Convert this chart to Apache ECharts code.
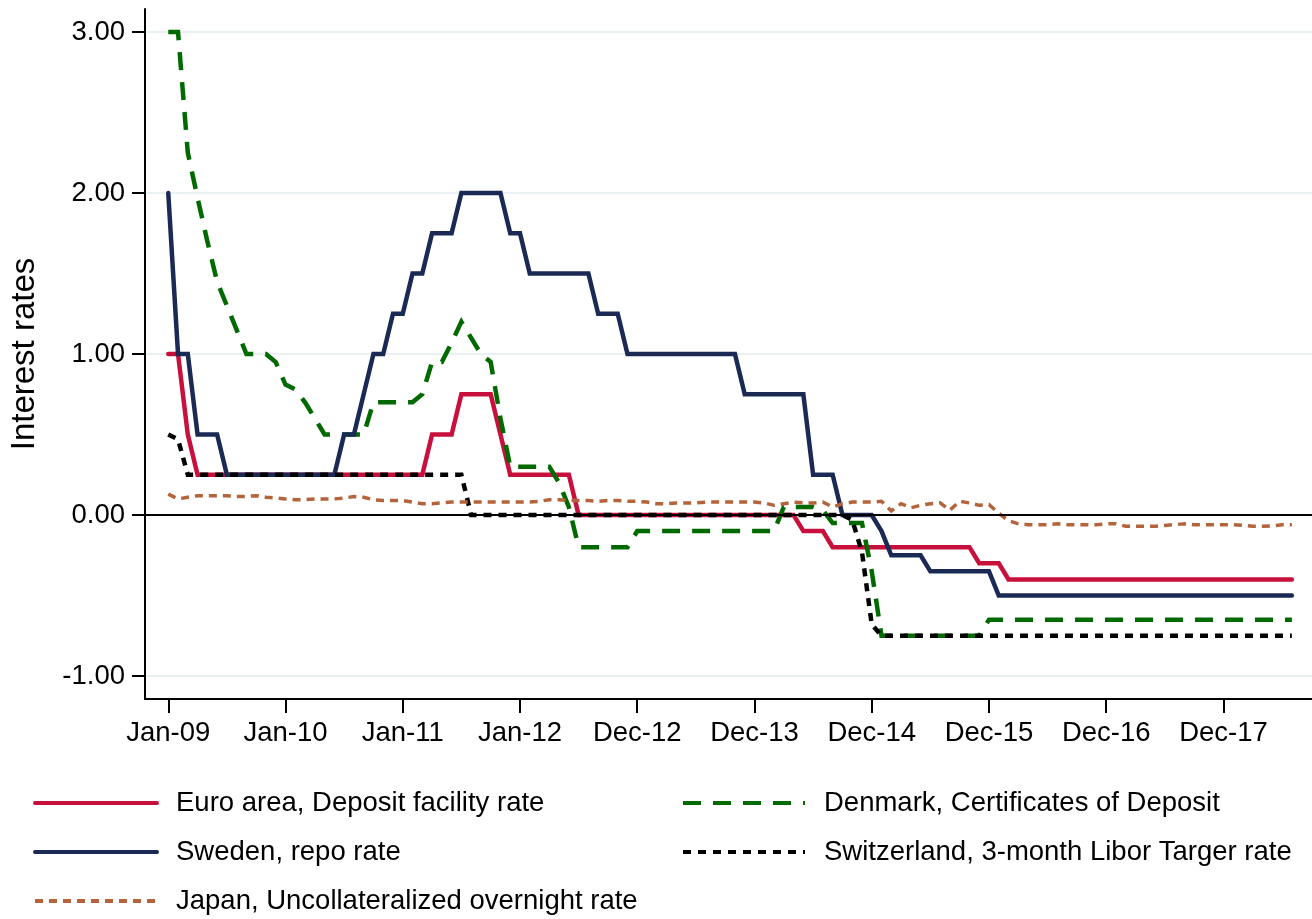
<!DOCTYPE html>
<html>
<head>
<meta charset="utf-8">
<script src="https://cdn.jsdelivr.net/npm/echarts@6/dist/echarts.min.js"></script>
<style>
html,body{margin:0;padding:0;background:#ffffff;}
#chart{width:1312px;height:919px;}
</style>
</head>
<body>
<div id="chart"></div>
<script>
// Month index 0 = Jan 2009 ... 115 = Aug 2018
const tickPositions = [0, 12, 24, 36, 48, 60, 72, 84, 96, 108];
const tickLabels = ['Jan-09', 'Jan-10', 'Jan-11', 'Jan-12', 'Dec-12', 'Dec-13', 'Dec-14', 'Dec-15', 'Dec-16', 'Dec-17'];
const yTicks = [-1, 0, 1, 2, 3];

const euroArea = [
  1, 1, 0.5, 0.25, 0.25, 0.25, 0.25, 0.25, 0.25, 0.25, 0.25, 0.25,
  0.25, 0.25, 0.25, 0.25, 0.25, 0.25, 0.25, 0.25, 0.25, 0.25, 0.25, 0.25,
  0.25, 0.25, 0.25, 0.5, 0.5, 0.5, 0.75, 0.75, 0.75, 0.75, 0.5, 0.25,
  0.25, 0.25, 0.25, 0.25, 0.25, 0.25, 0, 0, 0, 0, 0, 0,
  0, 0, 0, 0, 0, 0, 0, 0, 0, 0, 0, 0,
  0, 0, 0, 0, 0, -0.1, -0.1, -0.1, -0.2, -0.2, -0.2, -0.2,
  -0.2, -0.2, -0.2, -0.2, -0.2, -0.2, -0.2, -0.2, -0.2, -0.2, -0.2, -0.3,
  -0.3, -0.3, -0.4, -0.4, -0.4, -0.4, -0.4, -0.4, -0.4, -0.4, -0.4, -0.4,
  -0.4, -0.4, -0.4, -0.4, -0.4, -0.4, -0.4, -0.4, -0.4, -0.4, -0.4, -0.4,
  -0.4, -0.4, -0.4, -0.4, -0.4, -0.4, -0.4, -0.4
];

const sweden = [
  2, 1, 1, 0.5, 0.5, 0.5, 0.25, 0.25, 0.25, 0.25, 0.25, 0.25,
  0.25, 0.25, 0.25, 0.25, 0.25, 0.25, 0.5, 0.5, 0.75, 1, 1, 1.25,
  1.25, 1.5, 1.5, 1.75, 1.75, 1.75, 2, 2, 2, 2, 2, 1.75,
  1.75, 1.5, 1.5, 1.5, 1.5, 1.5, 1.5, 1.5, 1.25, 1.25, 1.25, 1,
  1, 1, 1, 1, 1, 1, 1, 1, 1, 1, 1, 0.75,
  0.75, 0.75, 0.75, 0.75, 0.75, 0.75, 0.25, 0.25, 0.25, 0, 0, 0,
  0, -0.1, -0.25, -0.25, -0.25, -0.25, -0.35, -0.35, -0.35, -0.35, -0.35, -0.35,
  -0.35, -0.5, -0.5, -0.5, -0.5, -0.5, -0.5, -0.5, -0.5, -0.5, -0.5, -0.5,
  -0.5, -0.5, -0.5, -0.5, -0.5, -0.5, -0.5, -0.5, -0.5, -0.5, -0.5, -0.5,
  -0.5, -0.5, -0.5, -0.5, -0.5, -0.5, -0.5, -0.5
];

const japan = [
  0.13, 0.10, 0.11, 0.12, 0.12, 0.12, 0.12, 0.115, 0.115, 0.12, 0.11, 0.105,
  0.10, 0.095, 0.095, 0.10, 0.10, 0.10, 0.105, 0.115, 0.11, 0.095, 0.09, 0.09,
  0.09, 0.08, 0.07, 0.07, 0.075, 0.08, 0.08, 0.08, 0.08, 0.08, 0.08, 0.08,
  0.08, 0.08, 0.085, 0.095, 0.095, 0.09, 0.09, 0.09, 0.085, 0.09, 0.09, 0.085,
  0.085, 0.08, 0.07, 0.07, 0.075, 0.075, 0.075, 0.08, 0.08, 0.08, 0.08, 0.08,
  0.08, 0.075, 0.06, 0.07, 0.08, 0.075, 0.075, 0.08, 0.05, 0.07, 0.08, 0.08,
  0.08, 0.085, 0.025, 0.07, 0.045, 0.06, 0.07, 0.075, 0.03, 0.085, 0.075, 0.06,
  0.065, 0.01, -0.035, -0.055, -0.06, -0.06, -0.06, -0.055, -0.06, -0.06, -0.06, -0.06,
  -0.055, -0.055, -0.07, -0.07, -0.07, -0.07, -0.065, -0.06, -0.055, -0.06, -0.06, -0.06,
  -0.06, -0.06, -0.065, -0.07, -0.07, -0.068, -0.06, -0.06
];

const denmark = [
  3, 3, 2.25, 1.97, 1.7, 1.45, 1.3, 1.15, 1, 1, 1, 0.95,
  0.81, 0.78, 0.7, 0.6, 0.5, 0.5, 0.5, 0.5, 0.5, 0.7, 0.7, 0.7,
  0.7, 0.7, 0.75, 0.95, 0.95, 1.07, 1.2, 1.1, 1, 0.95, 0.6, 0.3,
  0.3, 0.3, 0.3, 0.3, 0.2, 0.05, -0.2, -0.2, -0.2, -0.2, -0.2, -0.2,
  -0.1, -0.1, -0.1, -0.1, -0.1, -0.1, -0.1, -0.1, -0.1, -0.1, -0.1, -0.1,
  -0.1, -0.1, -0.1, 0.05, 0.05, 0.05, 0.05, 0.03, -0.05, -0.05, -0.05, -0.05,
  -0.35, -0.75, -0.75, -0.75, -0.75, -0.75, -0.75, -0.75, -0.75, -0.75, -0.75, -0.75,
  -0.65, -0.65, -0.65, -0.65, -0.65, -0.65, -0.65, -0.65, -0.65, -0.65, -0.65, -0.65,
  -0.65, -0.65, -0.65, -0.65, -0.65, -0.65, -0.65, -0.65, -0.65, -0.65, -0.65, -0.65,
  -0.65, -0.65, -0.65, -0.65, -0.65, -0.65, -0.65, -0.65
];

const switzerland = [
  0.5, 0.47, 0.25, 0.25, 0.25, 0.25, 0.25, 0.25, 0.25, 0.25, 0.25, 0.25,
  0.25, 0.25, 0.25, 0.25, 0.25, 0.25, 0.25, 0.25, 0.25, 0.25, 0.25, 0.25,
  0.25, 0.25, 0.25, 0.25, 0.25, 0.25, 0.25, 0, 0, 0, 0, 0,
  0, 0, 0, 0, 0, 0, 0, 0, 0, 0, 0, 0,
  0, 0, 0, 0, 0, 0, 0, 0, 0, 0, 0, 0,
  0, 0, 0, 0, 0, 0, 0, 0, 0, 0, -0.03, -0.23,
  -0.68, -0.75, -0.75, -0.75, -0.75, -0.75, -0.75, -0.75, -0.75, -0.75, -0.75, -0.75,
  -0.75, -0.75, -0.75, -0.75, -0.75, -0.75, -0.75, -0.75, -0.75, -0.75, -0.75, -0.75,
  -0.75, -0.75, -0.75, -0.75, -0.75, -0.75, -0.75, -0.75, -0.75, -0.75, -0.75, -0.75,
  -0.75, -0.75, -0.75, -0.75, -0.75, -0.75, -0.75, -0.75
];

const seriesNames = [
  'Euro area, Deposit facility rate',
  'Denmark, Certificates of Deposit',
  'Sweden, repo rate',
  'Switzerland, 3-month Libor Targer rate',
  'Japan, Uncollateralized overnight rate'
];

const FONT = "'Liberation Sans', Arial, Helvetica, sans-serif";
const toPairs = arr => arr.map((v, i) => [i, v]);

function lineSeries(name, values, color, width, dash, cap) {
  return {
    name: name,
    type: 'line',
    data: toPairs(values),
    symbol: 'none',
    showSymbol: false,
    z: 3,
    lineStyle: { color: color, width: width, type: dash, cap: cap, join: 'miter' },
    itemStyle: { color: color },
    emphasis: { disabled: true }
  };
}

const chart = echarts.init(document.getElementById('chart'), null, { renderer: 'canvas' });

const legendCommon = {
  orient: 'vertical',
  padding: 0,
  itemWidth: 122,
  itemHeight: 20,
  itemGap: 21,
  selectedMode: false,
  itemStyle: { opacity: 0 },
  lineStyle: { width: 4 },
  textStyle: { fontFamily: FONT, fontSize: 27.5, color: '#000', lineHeight: 28, padding: [0, 0, 0, 14] }
};

chart.setOption({
  animation: false,
  backgroundColor: '#ffffff',
  textStyle: { fontFamily: FONT },
  grid: { left: 145, right: 0, top: 9, bottom: 220 },
  legend: [
    Object.assign({}, legendCommon, {
      left: 33, top: 789,
      data: [seriesNames[0], seriesNames[2], seriesNames[4]]
    }),
    Object.assign({}, legendCommon, {
      left: 681, top: 789,
      data: [seriesNames[1], seriesNames[3]]
    })
  ],
  xAxis: {
    type: 'value',
    min: -2.38,
    max: 117.06,
    axisLine: { show: true, onZero: false, lineStyle: { color: '#000', width: 2 } },
    axisTick: { show: true, customValues: tickPositions, length: 14, lineStyle: { color: '#000', width: 2 } },
    axisLabel: {
      customValues: tickPositions,
      formatter: v => tickLabels[tickPositions.indexOf(v)],
      fontFamily: FONT, fontSize: 27.5, color: '#000', margin: 20
    },
    splitLine: { show: false }
  },
  yAxis: {
    type: 'value',
    min: -1.143,
    max: 3.143,
    name: 'Interest rates',
    nameLocation: 'middle',
    nameGap: 104,
    nameTextStyle: { fontFamily: FONT, fontSize: 33, color: '#000' },
    axisLine: { show: true, onZero: false, lineStyle: { color: '#000', width: 2 } },
    axisTick: { show: true, customValues: yTicks, length: 13, lineStyle: { color: '#000', width: 2 } },
    axisLabel: {
      customValues: yTicks,
      formatter: v => v.toFixed(2),
      fontFamily: FONT, fontSize: 27.5, color: '#000', margin: 20
    },
    splitLine: { show: true, lineStyle: { color: '#e9f1f3', width: 2 } }
  },
  series: [
    {
      name: 'zero',
      type: 'line',
      data: [],
      z: 1,
      silent: true,
      markLine: {
        silent: true,
        symbol: 'none',
        label: { show: false },
        lineStyle: { color: '#000', width: 2, type: 'solid' },
        emphasis: { disabled: true },
        data: [{ yAxis: 0 }]
      }
    },
    lineSeries(seriesNames[0], euroArea, '#c8103c', 4.5, 'solid', 'round'),
    lineSeries(seriesNames[1], denmark, '#006a00', 4.5, [18, 12], 'butt'),
    lineSeries(seriesNames[2], sweden, '#1b2a55', 4.5, 'solid', 'round'),
    lineSeries(seriesNames[3], switzerland, '#000000', 4.5, [8, 7], 'butt'),
    lineSeries(seriesNames[4], japan, '#b4643a', 3.5, [8, 6], 'butt')
  ]
});
</script>
</body>
</html>
